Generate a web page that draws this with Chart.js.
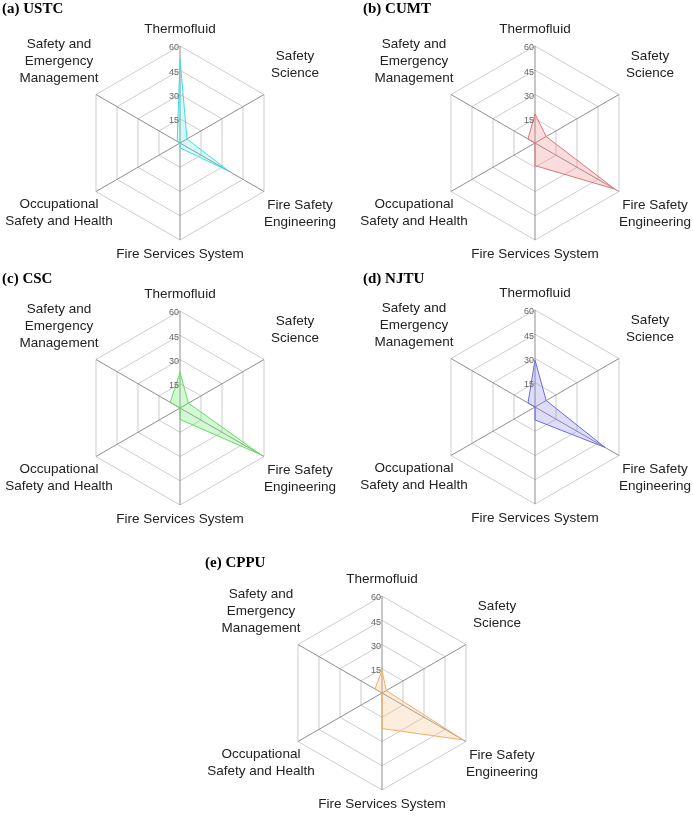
<!DOCTYPE html>
<html><head><meta charset="utf-8">
<script src="https://cdn.jsdelivr.net/npm/chart.js@4/dist/chart.umd.min.js"></script>
<style>
html,body{margin:0;padding:0;background:#fff;}
#wrap{position:relative;width:693px;height:816px;overflow:hidden;background:#fff;}
#wrap canvas{position:absolute;left:0;top:0;}
</style></head><body><div id="wrap"></div>
<script>
// ---- data ----
const categories = [["Thermofluid"],["Safety","Science"],["Fire Safety","Engineering"],["Fire Services System"],["Occupational","Safety and Health"],["Safety and","Emergency","Management"]];
const tickValues = [15, 30, 45, 60];
const panelTitles = ["(a) USTC", "(b) CUMT", "(c) CSC", "(d) NJTU", "(e) CPPU"];
const ustc = [52, 5, 35, 3, 0, 2];
const cumt = [18, 8, 57, 14, 0, 5];
const csc  = [22, 6, 58, 7, 0, 7];
const njtu = [29, 8, 50, 8, 0, 5];
const cppu = [14, 3, 58, 22, 0, 5];

// ---- layout / style ----
const W = 693, H = 816, R = 97;
const labelOffsets = [[0,-13],[31,-34.5],[36,17.5],[0,18],[-37,16.5],[-37,-46.5]];
const panels = [
  {data: ustc, c:[180,143], t:[2,13],   line:'#40dede', fill:'rgba(64,222,222,0.22)'},
  {data: cumt, c:[535,143], t:[363,13], line:'#e27474', fill:'rgba(240,128,128,0.28)'},
  {data: csc,  c:[180,408], t:[2,283],  line:'#62de62', fill:'rgba(120,230,120,0.32)'},
  {data: njtu, c:[535,407], t:[363,283],line:'#6a6aee', fill:'rgba(120,120,235,0.25)'},
  {data: cppu, c:[382,693], t:[205,567],line:'#f3ad62', fill:'rgba(246,190,130,0.28)'}
];

const textPlugin = {
  id: 'radarText',
  afterDraw(chart, args, opts) {
    const ctx = chart.ctx, s = chart.scales.r;
    ctx.save();
    ctx.font = '9px "Liberation Sans", Arial, sans-serif';
    ctx.fillStyle = '#666'; ctx.textAlign = 'right'; ctx.textBaseline = 'middle';
    tickValues.forEach(v => {
      const d = s.getDistanceFromCenterForValue(v);
      ctx.fillText(String(v), s.xCenter - 1, s.yCenter - d + 2);
    });
    ctx.font = '13.5px "Liberation Sans", Arial, sans-serif';
    ctx.fillStyle = '#222'; ctx.textAlign = 'center'; ctx.textBaseline = 'alphabetic';
    chart.data.labels.forEach((lab, i) => {
      const p = s.getPointPosition(i, s.drawingArea);
      const off = labelOffsets[i];
      const lines = Array.isArray(lab) ? lab : [lab];
      lines.forEach((t, k) => ctx.fillText(t, p.x + off[0], p.y + off[1] + k * 17));
    });
    ctx.font = 'bold 15px "Liberation Serif", "Times New Roman", serif';
    ctx.fillStyle = '#000'; ctx.textAlign = 'left';
    ctx.fillText(opts.title, opts.x, opts.y);
    ctx.restore();
  }
};

const wrap = document.getElementById('wrap');
panels.forEach((p, idx) => {
  const cv = document.createElement('canvas');
  cv.width = W; cv.height = H;
  cv.style.width = W + 'px'; cv.style.height = H + 'px';
  wrap.appendChild(cv);
  new Chart(cv, {
    type: 'radar',
    data: {
      labels: categories,
      datasets: [{
        data: p.data,
        borderColor: p.line,
        backgroundColor: p.fill,
        borderWidth: 1,
        pointRadius: 0,
        pointHoverRadius: 0,
        fill: true
      }]
    },
    options: {
      responsive: false,
      animation: false,
      devicePixelRatio: 1,
      layout: {padding: {left: p.c[0] - R, top: p.c[1] - R, right: W - (p.c[0] + R), bottom: H - (p.c[1] + R)}},
      plugins: {
        legend: {display: false},
        tooltip: {enabled: false},
        radarText: {title: panelTitles[idx], x: p.t[0], y: p.t[1]}
      },
      scales: {
        r: {
          min: 0, max: 60,
          ticks: {stepSize: 15, display: false},
          pointLabels: {display: false},
          grid: {color: '#cdcdcd', lineWidth: 1},
          angleLines: {color: '#8e8e8e', lineWidth: 1}
        }
      }
    },
    plugins: [textPlugin]
  });
});
</script></body></html>
